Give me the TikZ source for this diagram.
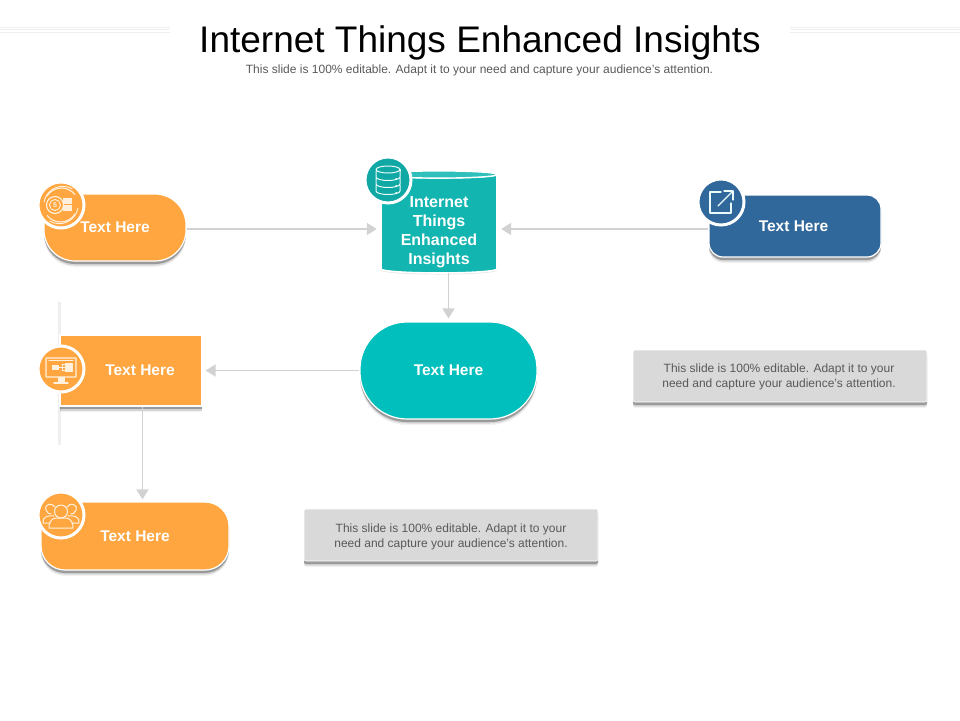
\documentclass[tikz,border=0pt]{standalone}
\usepackage{fontspec}
\setmainfont{Liberation Sans}
\usetikzlibrary{shapes.geometric,shadows,arrows.meta,calc}
\definecolor{orangeA}{HTML}{FFA640}
\definecolor{tealA}{HTML}{00BFBD}
\definecolor{tealB}{HTML}{12B5B0}
\definecolor{tealC}{HTML}{0FA8A5}
\definecolor{tealTop}{HTML}{2FC0BB}
\definecolor{blueA}{HTML}{31689B}
\definecolor{greyBox}{HTML}{D9D9D9}
\definecolor{greyText}{HTML}{595959}
\definecolor{arrowGrey}{HTML}{D2D2D2}
\definecolor{creamA}{HTML}{FFF1DE}
\definecolor{ruleGrey}{HTML}{EFEFEF}
\tikzset{
  softshadow/.style={
    drop shadow={shadow xshift=0pt,shadow yshift=-6pt,fill=black,opacity=.05},
    drop shadow={shadow xshift=0pt,shadow yshift=-4.5pt,fill=black,opacity=.12},
    drop shadow={shadow xshift=0pt,shadow yshift=-3pt,fill=black,opacity=.28}},
  panel/.style={softshadow,draw=white,line width=1.2pt,inner sep=0pt,text=white,align=center,font=\bfseries\fontsize{15.5}{19}\selectfont},
  notebox/.style={softshadow,fill=greyBox,draw=white,line width=.6pt,rounded corners=2pt,minimum width=294pt,minimum height=52pt,inner sep=0pt},
  notetext/.style={inner sep=0pt,align=center,text=greyText,font=\fontsize{12}{14.5}\selectfont},
  iconc/.style={circle,draw=white,line width=3pt,minimum size=46pt,inner sep=0pt},
  arr/.style={draw=arrowGrey,line width=1.8pt,-{Triangle[width=12pt,length=10pt]}},
  ico/.style={draw=creamA,line width=1pt,line cap=round,line join=round},
  icw/.style={draw=white!92!tealA,line width=1pt,line cap=round,line join=round},
  plain/.style={text=white,inner sep=0pt,font=\bfseries\fontsize{15.5}{19}\selectfont},
}
\begin{document}
\begin{tikzpicture}[x=1pt,y=-1pt]
\useasboundingbox (0,0) rectangle (960,720);
% header rules
\foreach \yy in {27,29.5,32}{
  \draw[ruleGrey,line width=.7pt] (0,\yy) -- (170,\yy);
  \draw[ruleGrey,line width=.7pt] (790,\yy) -- (960,\yy);
}
\node[inner sep=0pt,text=black,font=\fontsize{37}{40}\selectfont] (title) at (480,43) {Internet Things Enhanced Insights};
\node[inner sep=0pt,text=greyText,font=\fontsize{12}{14}\selectfont] (sub) at (479.5,70) {This slide is 100\% editable. Adapt it to your need and capture your audience’s attention.};
% side rule
\draw[draw=ruleGrey,line width=3pt] (59,302) -- (59,445);
% row guide coordinates
\coordinate (rowA) at (0,229);
% shapes
\node[panel,fill=orangeA,rounded corners=31pt,minimum width=142pt,minimum height=67pt] (o1) at (115,227.5) {Text Here};
\node[panel,fill=blueA,rounded corners=14pt,minimum width=172pt,minimum height=62pt] (b1) at (795,226) {};
\node[plain] (b1t) at (793.5,226) {Text Here};
\node[panel,fill=tealA,rounded corners=47pt,minimum width=177pt,minimum height=97pt] (t1) at (448.5,370.5) {Text Here};
\node[panel,fill=orangeA,minimum width=142pt,minimum height=71pt] (r1) at (131,370.5) {};
\node[plain] (r1t) at (140,370) {Text Here};
\node[panel,fill=orangeA,rounded corners=24pt,minimum width=188pt,minimum height=68pt] (o3) at (135,536) {Text Here};
% cylinder
\node[inner sep=0pt,minimum width=116pt,minimum height=102pt] (cyl) at (439,222) {};
\begin{scope}[shift={(cyl.center)}]
  \path[fill=tealB,draw=white,line width=1.6pt,drop shadow={shadow xshift=0pt,shadow yshift=-1.5pt,fill=black,opacity=.10}]
    (-58,-47.5) -- (-58,47) arc[start angle=180,end angle=360,x radius=58,y radius=-4] -- (58,-47.5)
    arc[start angle=0,end angle=180,x radius=58,y radius=3.5] -- cycle;
  \path[fill=tealTop,draw=white,line width=1.2pt] (0,-47.5) ellipse[x radius=58,y radius=3.5];
\end{scope}
\node[inner sep=0pt,text=white,align=center,font=\bfseries\fontsize{16}{19}\selectfont] (cylt) at (439,232) {Internet\\Things\\Enhanced\\Insights};
\node[notebox] (n1) at (780,376) {};
\node[notetext] (n1t) at (779,377) {This slide is 100\% editable. Adapt it to your\\need and capture your audience’s attention.};
\node[notebox] (n2) at (451,535) {};
\node[notetext] (n2t) at (451,537) {This slide is 100\% editable. Adapt it to your\\need and capture your audience’s attention.};
% connectors
\draw[arr,shorten >=4pt] (o1.east |- rowA) -- (cyl.west |- rowA);
\draw[arr,shorten >=4pt] (b1.west |- rowA) -- (cyl.east |- rowA);
\draw[arr,shorten >=3pt] (t1.north |- cyl.south) -- (t1.north);
\draw[arr,shorten >=3pt] (t1.west) -- (r1.east);
\coordinate (dropX) at (142.5,0);
\draw[arr,shorten >=2pt] (dropX |- r1.south) -- (dropX |- o3.north);
% icon discs
\node[iconc,fill=orangeA] (i1) at (61,205) {};
\node[iconc,fill=tealC] (i2) at (388,180) {};
\node[iconc,fill=blueA] (i3) at (721,202) {};
\node[iconc,fill=orangeA] (i4) at (61,369) {};
\node[iconc,fill=orangeA] (i5) at (61,515) {};
% coin icon
\begin{scope}[shift={(i1.center)}]
  \draw[ico,line width=1.1pt] (-14,-9) arc[start angle=212,end angle=322,radius=17];
  \draw[ico,line width=1.1pt] (14,9) arc[start angle=32,end angle=142,radius=17];
  \draw[ico,line width=.9pt] (-17,-3) arc[start angle=190,end angle=300,radius=19];
  \draw[ico,line width=.9pt] (17,3) arc[start angle=10,end angle=120,radius=19];
  \draw[ico,line width=1.1pt] (-6,0) circle[radius=8.5];
  \draw[ico,line width=.9pt] (-6,0) circle[radius=5.5];
  \node[text=creamA,inner sep=0pt,font=\bfseries\fontsize{7}{7}\selectfont] (i1d) at (-6,0) {\$};
  \foreach \yy in {-7,-3.5,0,3.5}{
    \draw[ico,fill=creamA,line width=.5pt] (2,\yy) rectangle (10,\yy+2.2);
  }
\end{scope}
% database icon
\begin{scope}[shift={(i2.center)}]
  \foreach \yy in {-9,-2,5}{
    \draw[icw] (-12,\yy) -- (-12,\yy+6) arc[start angle=180,end angle=360,x radius=12,y radius=-3.5] -- (12,\yy);
  }
  \draw[icw] (0,-10.5) ellipse[x radius=12,y radius=3.5];
  \draw[icw] (-12,-10.5) -- (-12,-9);
  \draw[icw] (12,-10.5) -- (12,-9);
  \foreach \yy in {-1.5,5.5,12.5}{\draw[icw,line width=1.2pt] (8,\yy) -- (8.5,\yy);}
\end{scope}
% share icon
\begin{scope}[shift={(i3.center)}]
  \draw[icw,line width=1.3pt] (0,-10) -- (-11,-10) -- (-11,11) -- (10,11) -- (10,1);
  \draw[icw,line width=1.3pt] (-3,4) -- (12,-11);
  \draw[icw,line width=1.3pt] (3,-11) -- (12,-11) -- (12,-2);
\end{scope}
% monitor icon
\begin{scope}[shift={(i4.center)}]
  \draw[ico,line width=1.4pt,rounded corners=.5pt] (-15,-11) rectangle (15,8);
  \draw[ico,line width=1.4pt] (-12,-8.5) -- (12,-8.5);
  \draw[ico,fill=creamA] (-3,8) rectangle (3,12);
  \draw[ico,fill=creamA,line width=1.4pt] (-7,14) -- (7,14);
  \draw[ico,fill=creamA,line width=.6pt] (-9,-4) rectangle (-3,0);
  \draw[ico,line width=.8pt] (-3,-2) -- (1,-2) (1,-5) -- (1,1) (1,-5) -- (4,-5) (1,-2) -- (4,-2) (1,1) -- (4,1);
  \draw[ico,fill=creamA,line width=.6pt] (4,-6) rectangle (11,-4) (4,-3) rectangle (11,-1) (4,0) rectangle (11,2);
\end{scope}
% people icon
\begin{scope}[shift={(i5.center)}]
  \draw[ico] (0,-3.5) ellipse[x radius=6.5,y radius=6.5];
  \draw[ico] (-12,13) .. controls (-12,3) and (-6,3) .. (-3,3) -- (3,3) .. controls (6,3) and (12,3) .. (12,13) -- cycle;
  \draw[ico] (-6,-8) .. controls (-9,-13) and (-17,-11) .. (-15,-5) .. controls (-14,-2) and (-12,-1) .. (-10,-1);
  \draw[ico] (6,-8) .. controls (9,-13) and (17,-11) .. (15,-5) .. controls (14,-2) and (12,-1) .. (10,-1);
  \draw[ico] (-7,1) .. controls (-13,0) and (-19,2) .. (-18,8) -- (-11,8);
  \draw[ico] (7,1) .. controls (13,0) and (19,2) .. (18,8) -- (11,8);
\end{scope}
\end{tikzpicture}
\end{document}
